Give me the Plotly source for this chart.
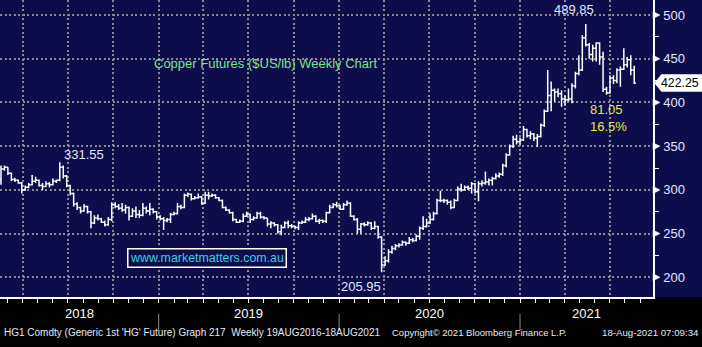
import plotly.graph_objects as go
import pandas as pd

# Weekly HG1 copper bars (US cents per lb), one row of values per week
opens = [312, 324, 326, 319, 312, 311, 308, 300, 303, 306, 310, 311, 305, 304, 307, 306, 310, 311, 326, 316,
         305, 296, 284, 280, 276, 281, 275, 262, 268, 267, 263, 260, 266, 283, 281, 279, 277, 280, 270, 276,
         272, 271, 279, 276, 278, 275, 269, 267, 265, 266, 272, 273, 281, 280, 294, 295, 290, 291, 292, 285,
         294, 293, 294, 291, 288, 280, 277, 274, 266, 263, 264, 270, 272, 266, 268, 273, 269, 268, 261, 262,
         260, 252, 257, 262, 259, 258, 257, 262, 263, 266, 267, 270, 264, 265, 264, 274, 280, 283, 282, 278,
         283, 285, 270, 266, 255, 261, 260, 262, 256, 258, 246, 214, 219, 229, 233, 236, 237, 240, 239, 243,
         242, 247, 256, 258, 262, 266, 273, 288, 288, 288, 286, 280, 288, 301, 300, 303, 302, 307, 298, 307,
         308, 309, 311, 313, 316, 318, 328, 340, 350, 358, 355, 357, 369, 362, 364, 359, 361, 374, 390, 408,
         414, 412, 410, 404, 403, 404, 419, 433, 437, 474, 466, 455, 462, 468, 452, 415, 411, 428, 425, 437,
         438, 443, 449, 437]
highs = [328, 328, 326, 320, 314, 312, 309, 305, 308, 317, 315, 312, 308, 310, 309, 313, 312, 331.55, 328, 317,
         306, 297, 286, 281, 284, 282, 276, 271, 272, 268, 265, 269, 286, 286, 284, 285, 283, 281, 279, 281,
         277, 285, 281, 285, 279, 276, 271, 269, 268, 274, 275, 285, 283, 296, 297, 296, 293, 296, 293, 298,
         298, 296, 295, 292, 289, 281, 278, 275, 267, 266, 273, 275, 273, 270, 275, 275, 270, 268, 264, 263,
         261, 260, 264, 265, 261, 259, 264, 265, 269, 269, 273, 271, 267, 266, 275, 283, 285, 286.5, 283, 285,
         288, 286, 271, 268, 262, 263, 264, 263, 264, 259, 247, 224, 232, 236, 238, 239, 242, 241, 246, 245,
         249, 258, 270, 267, 273, 275, 290, 299, 290, 289, 288, 290, 304, 307, 305, 305, 309, 308, 310, 311,
         321, 313, 315, 319, 320, 330, 342, 352, 362, 363, 360, 373, 370, 367, 365, 364, 376, 392, 437, 424,
         416, 416, 414, 408, 416, 422, 435, 454, 477, 489.85, 468, 466, 469, 469, 458, 418, 431, 431, 439, 441,
         462, 452, 454, 442]
lows = [306, 322, 317, 310, 309, 307, 296, 299, 302, 305, 308, 304, 300, 303, 303, 305, 308, 310, 313, 303,
        294, 281, 277, 273, 275, 273, 256, 261, 265, 262, 258, 259, 264, 279, 277, 275, 273, 265, 269, 268,
        268, 270, 273, 271, 273, 266, 265, 254, 263, 262, 271, 272, 278, 279, 292, 288, 289, 290, 283, 284,
        289, 292, 290, 287, 279, 276, 273, 264, 262, 262, 263, 269, 262, 265, 267, 267, 266, 258, 256, 258,
        250, 248, 256, 256, 256, 255, 254, 261, 262, 264, 266, 263, 261, 262, 262, 273, 279, 280, 277, 277,
        282, 269, 265, 250, 250, 258, 259, 254, 255, 244, 205.95, 213, 217, 227, 231, 234, 236, 236, 238, 240,
        241, 243, 254, 257, 261, 265, 272, 286, 285, 283, 278, 279, 287, 298, 299, 300, 296, 296, 287, 304,
        306, 305, 305, 312, 314, 316, 326, 339, 348, 352, 352, 356, 360, 358, 356, 349, 360, 372, 389, 390,
        401, 406, 395, 397, 401, 399, 416, 431, 436, 464, 450, 447, 447, 443, 412, 408.8, 410, 421, 422, 418,
        437, 440, 431, 421]
closes = [324, 326, 319, 312, 311, 308, 300, 303, 306, 310, 311, 305, 304, 307, 306, 310, 311, 326, 316, 305,
          296, 284, 280, 276, 281, 275, 262, 268, 267, 263, 260, 266, 283, 281, 279, 277, 280, 270, 276, 272,
          271, 279, 276, 278, 275, 269, 267, 265, 266, 272, 273, 281, 280, 294, 295, 290, 291, 292, 285, 294,
          293, 294, 291, 288, 280, 277, 274, 266, 263, 264, 270, 272, 266, 268, 273, 269, 268, 261, 262, 260,
          252, 257, 262, 259, 258, 257, 262, 263, 266, 267, 270, 264, 265, 264, 274, 280, 283, 282, 278, 283,
          285, 270, 266, 255, 261, 260, 262, 256, 258, 246, 214, 219, 229, 233, 236, 237, 240, 239, 243, 242,
          247, 256, 258, 262, 266, 273, 288, 288, 288, 286, 280, 288, 301, 300, 303, 302, 307, 298, 307, 308,
          309, 311, 313, 316, 318, 328, 340, 350, 358, 355, 357, 369, 362, 364, 359, 361, 374, 390, 408, 414,
          412, 410, 404, 403, 404, 419, 433, 437, 474, 466, 455, 462, 468, 452, 415, 411, 428, 425, 437, 438,
          443, 449, 437, 422.25]
week_dates = pd.date_range("2018-02-16", periods=len(closes), freq="7D")

y_ticks = [200, 250, 300, 350, 400, 450, 500]
years = ["2018", "2019", "2020", "2021"]
year_starts = ["2019-01-01", "2020-01-01", "2021-01-01"]
chart_title = "Copper Futures ($US/lb) Weekly Chart"
site = "www.marketmatters.com.au"
footer_left = "HG1 Comdty (Generic 1st 'HG' Future) Graph 217\u00a0\u00a0Weekly 19AUG2016-18AUG2021"
footer_mid = "Copyright\u00a9 2021 Bloomberg Finance L.P."
footer_right = "18-Aug-2021 07:09:34"

X_RANGE = ["2018-02-14", "2021-09-27"]
Y_RANGE = [177.5, 517.2]

W, H = 702, 347
M_R, M_B = 49, 50
PLOT_W, PLOT_H = W - M_R, H - M_B

NAVY = "#0e0d4c"
GRID = "#8a8a8e"
SANS = "Liberation Sans, Arial, sans-serif"
LABEL = "#e2e6ff"


def right_px(p):
    # paper x for a point p pixels to the right of the price axis
    return 1 + p / PLOT_W


def below_px(p):
    # paper y for a point p pixels below the plot area's top edge
    return 1 - p / PLOT_H


units_per_px = (Y_RANGE[1] - Y_RANGE[0]) / PLOT_H

fig = go.Figure()
fig.add_trace(go.Ohlc(
    x=week_dates, open=opens, high=highs, low=lows, close=closes,
    increasing=dict(line=dict(color="white", width=1.5)),
    decreasing=dict(line=dict(color="white", width=1.5)),
    tickwidth=0.5, hoverinfo="skip", showlegend=False,
))

# key price points
peak_i = max(range(len(highs)), key=lambda i: highs[i])
trough_i = min(range(peak_i, len(lows)), key=lambda i: lows[i])
low_i = min(range(len(lows)), key=lambda i: lows[i])
top18_i = max(range(low_i), key=lambda i: highs[i])
drop = highs[peak_i] - lows[trough_i]
drop_pct = drop / highs[peak_i] * 100

annotations = [
    dict(x=week_dates[peak_i], y=highs[peak_i], text=f"{highs[peak_i]:.2f}", xshift=-12, yshift=14,
         font=dict(family=SANS, size=13, color=LABEL)),
    dict(x=week_dates[top18_i], y=highs[top18_i], text=f"{highs[top18_i]:.2f}", xshift=24, yshift=8,
         font=dict(family=SANS, size=13, color=LABEL)),
    dict(x=week_dates[low_i], y=lows[low_i], text=f"{lows[low_i]:.2f}", xshift=-21, yshift=-14,
         font=dict(family=SANS, size=13, color=LABEL)),
    dict(x=week_dates[trough_i], y=lows[trough_i], text=f"{drop:.2f}", xshift=0, yshift=-15,
         font=dict(family=SANS, size=13, color="#e8e83a")),
    dict(x=week_dates[trough_i], y=lows[trough_i], text=f"{drop_pct:.1f}%", xshift=2, yshift=-32,
         font=dict(family=SANS, size=13, color="#e8e83a")),
]
for a in annotations:
    a.update(xref="x", yref="y", showarrow=False)

annotations += [
    dict(xref="paper", yref="paper", x=265 / PLOT_W, y=below_px(53.5), text=chart_title, showarrow=False,
         font=dict(family=SANS, size=13, color="#7fe38a")),
    dict(xref="paper", yref="paper", x=127 / PLOT_W, y=below_px(267.5), text=site, showarrow=False,
         font=dict(family=SANS, size=12.4, color="#36cfe0"), bgcolor=NAVY,
         bordercolor="white", borderwidth=1.5, borderpad=1.5),
    dict(xref="paper", yref="y", x=right_px(M_R - 2), y=closes[-1], xanchor="right", text=f"{closes[-1]:.2f}",
         showarrow=False, borderpad=0, font=dict(family=SANS, size=12.3, color="black")),
    dict(xref="paper", yref="paper", x=2 / PLOT_W, y=below_px(340), xanchor="left", text=footer_left,
         showarrow=False, font=dict(family=SANS, size=10, color="#e6e8f4")),
    dict(xref="paper", yref="paper", x=390 / PLOT_W, y=below_px(340), xanchor="left", text=footer_mid,
         showarrow=False, font=dict(family=SANS, size=9.5, color="#e6e8f4")),
    dict(xref="paper", yref="paper", x=right_px(M_R - 1), y=below_px(340), xanchor="right", text=footer_right,
         showarrow=False, font=dict(family=SANS, size=9.7, color="#e6e8f4")),
]

# year labels centred on the visible part of each calendar year
bounds = [pd.Timestamp(X_RANGE[0])] + [pd.Timestamp(d) for d in year_starts] + [pd.Timestamp(X_RANGE[1])]
for yr, a, b in zip(years, bounds[:-1], bounds[1:]):
    annotations.append(dict(xref="x", yref="paper", x=a + (b - a) / 2, y=below_px(322.5), text=yr,
                            showarrow=False, font=dict(family=SANS, size=13, color="white")))

shapes = [
    dict(type="rect", xref="paper", yref="paper", x0=1, x1=right_px(M_R + 2), y0=0, y1=1,
         fillcolor=NAVY, line=dict(width=0), layer="below"),
]
for d in year_starts:
    shapes.append(dict(type="line", xref="x", yref="paper", x0=d, x1=d, y0=below_px(314), y1=below_px(330),
                       line=dict(color="#8c8c8c", width=1)))
for v in y_ticks:
    h = 3.5 * units_per_px
    shapes.append(dict(type="path", xref="paper", yref="y",
                       path=f"M {right_px(0)},{v + h} L {right_px(7)},{v} L {right_px(0)},{v - h} Z",
                       fillcolor="white", line=dict(color="white", width=0.5)))
# last price flag
last = closes[-1]
hh = 8.5 * units_per_px
shapes.append(dict(type="path", xref="paper", yref="y",
                   path=(f"M {right_px(1.5)},{last} L {right_px(8.5)},{last + hh} L {right_px(M_R + 2)},{last + hh} "
                         f"L {right_px(M_R + 2)},{last - hh} L {right_px(8.5)},{last - hh} Z"),
                   fillcolor="white", line=dict(color="white", width=0.5)))

fig.update_layout(
    width=W, height=H, margin=dict(l=0, r=M_R, t=0, b=M_B, pad=0),
    paper_bgcolor="black", plot_bgcolor=NAVY, showlegend=False,
    annotations=annotations, shapes=shapes,
    xaxis=dict(
        type="date", range=X_RANGE, rangeslider=dict(visible=False),
        showgrid=True, gridcolor=GRID, gridwidth=2, griddash="2px,2.5px",
        tick0="2018-01-01", dtick="M3", ticks="outside", ticklen=4, tickcolor="white", tickwidth=1,
        showticklabels=False, showline=True, linecolor="white", linewidth=1.5, zeroline=False,
        minor=dict(dtick="M1", ticks="outside", ticklen=4, tickcolor="white", showgrid=False),
    ),
    yaxis=dict(
        side="right", range=Y_RANGE, tickvals=y_ticks, ticks="", ticklabelstandoff=6,
        showgrid=True, gridcolor=GRID, gridwidth=2, griddash="2px,2.5px",
        showline=True, linecolor="white", linewidth=1.5, zeroline=False,
        tickfont=dict(family=SANS, size=13, color=LABEL),
        minor=dict(tick0=225, dtick=50, ticks="outside", ticklen=4, tickcolor="white", showgrid=False),
    ),
)

fig.write_html("out.html")
